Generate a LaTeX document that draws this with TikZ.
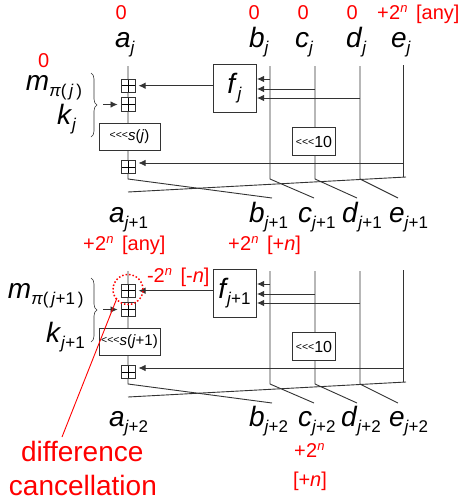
\documentclass[tikz,border=0pt]{standalone}
\usepackage{fontspec}
\setmainfont{Liberation Sans}
\usetikzlibrary{arrows.meta,decorations.pathreplacing}
\definecolor{ink}{gray}{0.2}
\definecolor{hot}{RGB}{255,0,0}
\newcommand{\fs}[1]{\fontsize{#1}{#1}\selectfont}
\newcommand{\lab}[2]{{\fs{28}\textit{#1}}\raisebox{-6.5pt}{\fs{17}#2}}
\newcommand{\jj}{\textit{j}}
\newcommand{\sq}{{\fs{10.5}\raisebox{1.5pt}{<{}<{}<}}}
\newcommand{\two}{{+}\kern0.5pt 2\raisebox{6.5pt}{\fs{13}\textit{n}}}
\tikzset{
  wire/.style={draw=ink,line width=0.9pt},
  arr/.style={wire,-{Latex[length=7pt,width=6.5pt]}},
  adder/.style={draw=ink,fill=white,line width=0.8pt,minimum width=13.5pt,minimum height=13.5pt,inner sep=0pt,outer sep=0pt,
    path picture={\draw[black,line width=0.6pt] (path picture bounding box.north)--(path picture bounding box.south) (path picture bounding box.west)--(path picture bounding box.east);}},
  boxn/.style={draw=ink,fill=white,line width=0.9pt,inner sep=0pt,outer sep=0pt,align=center},
  txt/.style={anchor=base west,inner sep=0pt,outer sep=0pt,text=black},
  red/.style={anchor=base west,inner sep=0pt,outer sep=0pt,text=hot,font=\fs{20}},
  bigred/.style={anchor=base west,inner sep=0pt,outer sep=0pt,text=hot,font=\fs{28}},
  bracem/.style={draw=ink,line width=0.6pt,decorate,decoration={brace,amplitude=6pt}}
}
% #1 prefix, #2 y shift, #3 f label, #4 s label
\newcommand{\roundpart}[4]{
\begin{scope}[yshift=#2]
  \coordinate (#1at) at (128,66);
  \coordinate (#1ab) at (128,179);
  \coordinate (#1bt) at (270,66);
  \coordinate (#1bb) at (270,179);
  \coordinate (#1ct) at (315,66);
  \coordinate (#1cb) at (315,179);
  \coordinate (#1dt) at (360,66);
  \coordinate (#1db) at (360,179);
  \coordinate (#1et) at (403.5,65);
  \coordinate (#1eb) at (403.5,177);
  \coordinate (#1a2) at (128,192);
  \coordinate (#1e2) at (406,177);
  \coordinate (#1bo) at (272,198);
  \coordinate (#1co) at (314,198);
  \coordinate (#1do) at (357,198);
  \coordinate (#1eo) at (398,198);
  \coordinate (#1fb) at (270,79);
  \coordinate (#1fc) at (315,89);
  \coordinate (#1fd) at (360,98);
  \coordinate (#1er) at (403.5,163);
  \coordinate (#1kin) at (103,104.5);
  \coordinate (#1bu) at (91,73);
  \coordinate (#1bl) at (91,137);
  \draw[wire] (#1at)--(#1ab)--(#1bo);
  \draw[wire] (#1bt)--(#1bb)--(#1co);
  \draw[wire] (#1ct)--(#1cb)--(#1do);
  \draw[wire] (#1dt)--(#1db)--(#1eo);
  \draw[wire] (#1et)--(#1eb);
  \draw[wire] (#1a2)--(#1e2);
  \node[adder] (#1p1) at (128.3,85.7) {};
  \node[adder] (#1p2) at (128.3,104.5) {};
  \node[adder] (#1p3) at (128.3,167) {};
  \node[boxn,minimum width=61pt,minimum height=27pt] (#1s) at (129.5,136.5) {#4};
  \node[boxn,minimum width=43.5pt,minimum height=28.5pt] (#1r) at (314,141.5) {\sq{\fs{16}10}};
  \node[boxn,minimum width=43pt,minimum height=48pt] (#1f) at (234.5,88) {#3};
  \draw[arr,shorten >=3.5pt] (#1f.west |- #1p1) -- (#1p1.east);
  \draw[arr,shorten >=3.5pt,line width=0.8pt] (#1er) -- (#1er -| #1p3.east);
  \draw[arr,shorten >=4pt,line width=0.8pt] (#1kin) -- (#1p2.west);
  \draw[arr,shorten >=1pt] (#1fb) -- (#1fb -| #1f.east);
  \draw[arr,shorten >=1pt] (#1fc) -- (#1fc -| #1f.east);
  \draw[arr,shorten >=1pt] (#1fd) -- (#1fd -| #1f.east);
  \draw[bracem] (#1bu) -- (#1bl);
\end{scope}
}
\begin{document}
\begin{tikzpicture}[x=1pt,y=-1pt]
\useasboundingbox (0,0) rectangle (461,504);
\roundpart{u}{0pt}{\raisebox{-3pt}{\lab{f}{\jj}}}{\sq{\fs{15}\textit{s}(\textit{j})}}
\roundpart{v}{-205pt}{\raisebox{-3pt}{\lab{f}{\kern-1.5pt\jj+1}}}{\sq{\fs{15}\textit{s}(\textit{j}+1)}}
% top row
\node[red] (z1) at (115.5,19) {0};
\node[red] (z2) at (248.5,19) {0};
\node[red] (z3) at (297.5,19) {0};
\node[red] (z4) at (346.5,19) {0};
\node[red] (z5) at (377,19) {\two\kern3pt{} [any]};
\node[red] (z6) at (38,67) {0};
\node[txt] (aj) at (115,47) {\lab{a}{\jj}};
\node[txt] (bj) at (249,47) {\lab{b}{\jj}};
\node[txt] (cj) at (295,47) {\lab{c}{\jj}};
\node[txt] (dj) at (346,47) {\lab{d}{\jj}};
\node[txt] (ej) at (391,47) {\lab{e}{\jj}};
\node[txt] (mj) at (26,90) {\lab{m}{\textit{π}(\,\jj\,)}};
\node[txt] (kj) at (57,124) {\lab{k}{\jj}};
% middle row
\node[txt] (a1) at (109,222) {\lab{a}{\jj+1}};
\node[txt] (b1) at (249,222) {\lab{b}{\jj+1}};
\node[txt] (c1) at (298,222) {\lab{c}{\jj+1}};
\node[txt] (d1) at (342,222) {\lab{d}{\jj+1}};
\node[txt] (e1) at (389,222) {\lab{e}{\jj+1}};
\node[red] (r1) at (83,250) {\two\kern3pt{} [any]};
\node[red] (r2) at (228,250) {\two\kern3pt{} [+\textit{n}]};
\node[red] (r3) at (147,282) {-2\raisebox{6.5pt}{\fs{13}\textit{n}}\kern3pt{} [-\textit{n}]};
\node[txt] (m2) at (8,298) {\lab{m}{\textit{π}(\,\jj+1\,)}};
\node[txt] (k2) at (46,342) {\lab{k}{\jj+1}};
% bottom row
\node[txt] (a2) at (109,426) {\lab{a}{\jj+2}};
\node[txt] (b2) at (249,426) {\lab{b}{\jj+2}};
\node[txt] (c2) at (298,426) {\lab{c}{\jj+2}};
\node[txt] (d2) at (341,426) {\lab{d}{\jj+2}};
\node[txt] (e2) at (389,426) {\lab{e}{\jj+2}};
\node[red] (r4) at (294,457) {\two};
\node[red] (r5) at (293,486) {[+\textit{n}]};
\node[bigred] (diff) at (21,461) {difference};
\node[bigred] (canc) at (9,495) {cancellation};
% cancellation marker
\node[draw=hot,line width=1.5pt,dotted,circle,minimum size=30pt,inner sep=0pt] (ring) at (128,289.5) {};
\coordinate (rin) at (117,298);
\coordinate (rout) at (62,437);
\draw[hot,line width=0.9pt] (rin) -- (rout);
\end{tikzpicture}
\end{document}
